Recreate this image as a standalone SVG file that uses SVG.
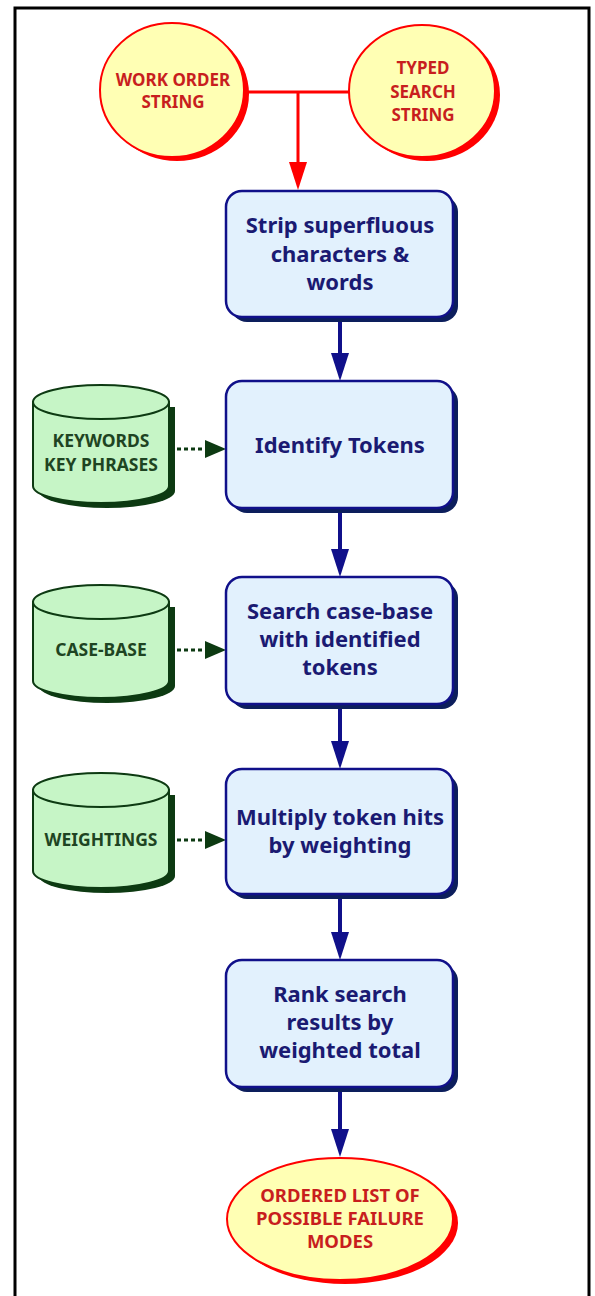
<svg xmlns="http://www.w3.org/2000/svg" width="595" height="1296" viewBox="0 0 595 1296">
<defs>
<style>
.frame{fill:none;stroke:#000;stroke-width:3}
.eshadow{fill:#ff0000;stroke:none}
.ell{fill:#ffffb4;stroke:#ff0000;stroke-width:2}
.etxt{font-family:"Noto Sans",sans-serif;font-weight:bold;font-size:17px;fill:#c81e1e;text-anchor:middle}
.bshadow{fill:#0c1e5c;stroke:none}
.box{fill:#e2f1fd;stroke:#10108a;stroke-width:2.5}
.btxt{font-family:"Noto Sans",sans-serif;font-weight:bold;font-size:22px;fill:#1a1a72;text-anchor:middle}
.cshadow{fill:#0d3a12;stroke:none}
.cyl{fill:#c6f5c6;stroke:#0d3a12;stroke-width:2}
.ctxt{font-family:"Noto Sans",sans-serif;font-weight:bold;font-size:17.5px;fill:#1e4422;text-anchor:middle}
.red{stroke:#ff0000;stroke-width:3;fill:none}
.navy{stroke:#10108a;stroke-width:4;fill:none}
.dot{stroke:#0d3a12;stroke-width:3;stroke-dasharray:4 3;fill:none}
</style>
</defs>
<path class="frame" d="M15,1296 V8 H589 V1296"/>

<g id="connectors">
<path class="red" d="M244,92 H350 M298,92 V165"/>
<polygon points="289,162 307,162 298,190" fill="#ff0000"/>
<path class="navy" d="M340,320 V356"/>
<polygon points="331,353 349,353 340,381" fill="#10108a"/>
<path class="navy" d="M340,511 V552"/>
<polygon points="331,549 349,549 340,577" fill="#10108a"/>
<path class="navy" d="M340,707 V744"/>
<polygon points="331,741 349,741 340,769" fill="#10108a"/>
<path class="navy" d="M340,897 V935"/>
<polygon points="331,932 349,932 340,960" fill="#10108a"/>
<path class="navy" d="M340,1090 V1132"/>
<polygon points="331,1129 349,1129 340,1157" fill="#10108a"/>
<path class="dot" d="M177,449 H206"/>
<polygon points="205,440 226,449 205,458" fill="#0d3a12"/>
<path class="dot" d="M177,650 H206"/>
<polygon points="205,641 226,650 205,659" fill="#0d3a12"/>
<path class="dot" d="M177,840 H206"/>
<polygon points="205,831 226,840 205,849" fill="#0d3a12"/>
</g>

<g id="work-order-string">
<ellipse class="eshadow" cx="177" cy="94" rx="72" ry="67"/>
<ellipse class="ell" cx="172" cy="90" rx="72" ry="67"/>
<text class="etxt" x="173" y="86">WORK ORDER</text>
<text class="etxt" x="173" y="108">STRING</text>
</g>

<g id="typed-search-string">
<ellipse class="eshadow" cx="427" cy="95" rx="73" ry="66"/>
<ellipse class="ell" cx="422" cy="91" rx="73" ry="66"/>
<text class="etxt" x="423" y="74">TYPED</text>
<text class="etxt" x="423" y="98">SEARCH</text>
<text class="etxt" x="423" y="121">STRING</text>
</g>

<g id="strip">
<rect class="bshadow" x="231" y="196" width="227" height="126" rx="16"/>
<rect class="box" x="226" y="191" width="227" height="126" rx="16"/>
<text class="btxt" x="340" y="233">Strip superfluous</text>
<text class="btxt" x="340" y="262">characters &amp;</text>
<text class="btxt" x="340" y="290">words</text>
</g>

<g id="identify">
<rect class="bshadow" x="231" y="386" width="227" height="127" rx="16"/>
<rect class="box" x="226" y="381" width="227" height="127" rx="16"/>
<text class="btxt" x="340" y="453">Identify Tokens</text>
</g>

<g id="search">
<rect class="bshadow" x="231" y="582" width="227" height="127" rx="16"/>
<rect class="box" x="226" y="577" width="227" height="127" rx="16"/>
<text class="btxt" x="340" y="619">Search case-base</text>
<text class="btxt" x="340" y="647">with identified</text>
<text class="btxt" x="340" y="675">tokens</text>
</g>

<g id="multiply">
<rect class="bshadow" x="231" y="774" width="227" height="125" rx="16"/>
<rect class="box" x="226" y="769" width="227" height="125" rx="16"/>
<text class="btxt" x="340" y="825">Multiply token hits</text>
<text class="btxt" x="340" y="853">by weighting</text>
</g>

<g id="rank">
<rect class="bshadow" x="231" y="965" width="227" height="127" rx="16"/>
<rect class="box" x="226" y="960" width="227" height="127" rx="16"/>
<text class="btxt" x="340" y="1002">Rank search</text>
<text class="btxt" x="340" y="1030">results by</text>
<text class="btxt" x="340" y="1058">weighted total</text>
</g>

<g id="ordered-list">
<ellipse class="eshadow" cx="345" cy="1223" rx="113" ry="61"/>
<ellipse class="ell" cx="340" cy="1219" rx="113" ry="61"/>
<text class="etxt" style="font-size:18.5px" x="340" y="1202">ORDERED LIST OF</text>
<text class="etxt" style="font-size:18.5px" x="340" y="1225">POSSIBLE FAILURE</text>
<text class="etxt" style="font-size:18.5px" x="340" y="1248">MODES</text>
</g>

<g id="keywords">
<path class="cshadow" d="M39,407 V491 A68,17 0 0 0 175,491 V407 Z"/>
<path class="cyl" d="M33,402 V486 A68,17 0 0 0 169,486 V402 Z"/>
<ellipse class="cyl" cx="101" cy="402" rx="68" ry="17"/>
<text class="ctxt" x="101" y="447">KEYWORDS</text>
<text class="ctxt" x="101" y="471">KEY PHRASES</text>
</g>

<g id="case-base">
<path class="cshadow" d="M39,607 V686 A68,17 0 0 0 175,686 V607 Z"/>
<path class="cyl" d="M33,602 V681 A68,17 0 0 0 169,681 V602 Z"/>
<ellipse class="cyl" cx="101" cy="602" rx="68" ry="17"/>
<text class="ctxt" x="101" y="656">CASE-BASE</text>
</g>

<g id="weightings">
<path class="cshadow" d="M39,795 V876 A68,17 0 0 0 175,876 V795 Z"/>
<path class="cyl" d="M33,790 V871 A68,17 0 0 0 169,871 V790 Z"/>
<ellipse class="cyl" cx="101" cy="790" rx="68" ry="17"/>
<text class="ctxt" x="101" y="846">WEIGHTINGS</text>
</g>
</svg>
